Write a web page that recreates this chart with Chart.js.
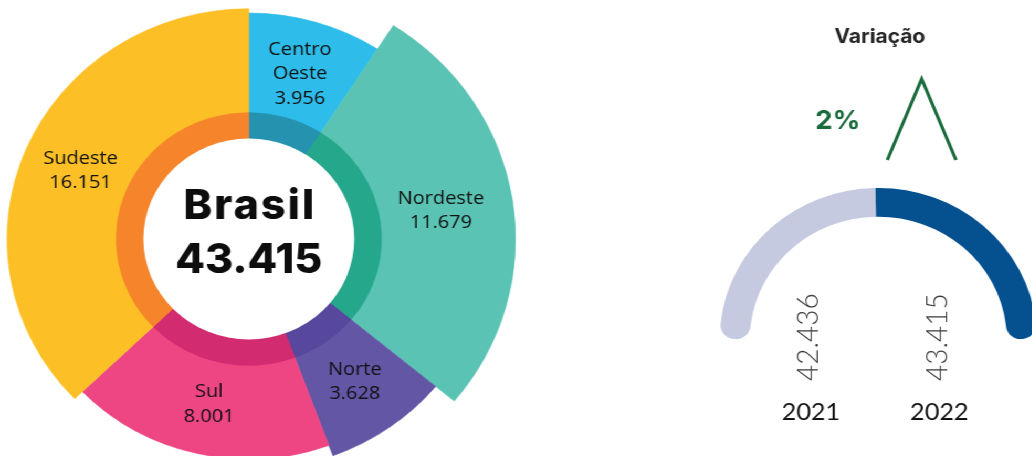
<!DOCTYPE html>
<html><head><meta charset="utf-8">
<script src="https://cdn.jsdelivr.net/npm/chart.js@4/dist/chart.umd.min.js"></script>
<style>
html,body{margin:0;padding:0;background:#fff;width:1032px;height:456px;overflow:hidden}
#stage{position:absolute;left:0;top:0;width:983px;height:456px;transform:scaleX(1.05);transform-origin:0 0}
#polarBox{position:absolute;left:-33px;top:-31px;width:540px;height:540px}
#gaugeBox{position:absolute;left:685px;top:0;width:303px;height:456px}
</style></head><body>
<div id="stage">
  <div id="polarBox"><canvas id="polar"></canvas></div>
  <div id="gaugeBox"><canvas id="gauge"></canvas></div>
</div>
<script>
// ---- data ----
const regioes = ['Centro Oeste', 'Nordeste', 'Norte', 'Sul', 'Sudeste'];
const rotulos = [['Centro', 'Oeste'], ['Nordeste'], ['Norte'], ['Sul'], ['Sudeste']];
const valores = [3956, 11679, 3628, 8001, 16151];
const alcance = [83.7, 94.1, 85.6, 81.5, 85.3];   // radial extent of each slice (0-100 scale)
const anelInterno = 46.8;                          // inner ring extent (0-100 scale)
const furoCentral = 37.2;                          // white hole extent (0-100 scale)
const tituloCentro = 'Brasil';

const anos = ['2021', '2022'];
const totaisAno = [42436, 43415];
const tituloVar = 'Variação';

// ---- styles ----
const coresRegiao = ['#2EBDEA', '#5AC3B3', '#6356A5', '#EE4583', '#FCC026'];
const coresAnel = ['#2592B0', '#24A78A', '#57479D', '#D22B70', '#F5842B'];
const coresAno = ['#C5CAE0', '#05508E'];
const verde = '#1A6B3C';

const total = valores.reduce((a, b) => a + b, 0);
const fmt = n => String(n).replace(/\B(?=(\d{3})+(?!\d))/g, '.');
const angulo = ctx => valores[ctx.dataIndex] / total * 360;

const centroPlugin = {
  id: 'centro',
  afterDatasetsDraw(chart) {
    const ctx = chart.ctx, s = chart.scales.r;
    const cx = s.xCenter, cy = s.yCenter;
    ctx.save();
    ctx.fillStyle = '#fff';
    ctx.beginPath();
    ctx.arc(cx, cy, s.getDistanceFromCenterForValue(furoCentral), 0, Math.PI * 2);
    ctx.fill();
    ctx.fillStyle = '#0d0d0d';
    ctx.textAlign = 'center';
    ctx.textBaseline = 'alphabetic';
    ctx.font = '800 41px Inter';
    ctx.letterSpacing = '2px';
    ctx.fillText(tituloCentro, cx + 1, cy - 20);
    ctx.letterSpacing = '0px';
    ctx.fillText(fmt(total), cx, cy + 34);
    // region labels
    const rAnel = s.getDistanceFromCenterForValue(anelInterno);
    const meta = chart.getDatasetMeta(1);
    ctx.font = '400 19px "Open Sans"';
    ctx.fillStyle = '#111';
    ctx.textBaseline = 'middle';
    meta.data.forEach((arc, i) => {
      const mid = (arc.startAngle + arc.endAngle) / 2;
      const r = rAnel + 0.46 * (arc.outerRadius - rAnel);
      const x = cx + Math.cos(mid) * r, y = cy + Math.sin(mid) * r;
      const linhas = rotulos[i].concat([fmt(valores[i])]);
      const lh = 24.5;
      linhas.forEach((t, j) => ctx.fillText(t, x, y + (j - (linhas.length - 1) / 2) * lh));
    });
    ctx.restore();
  }
};

new Chart(document.getElementById('polar'), {
  type: 'polarArea',
  data: {
    labels: regioes,
    datasets: [
      { data: regioes.map(() => anelInterno), backgroundColor: coresAnel, borderColor: coresAnel, borderWidth: 0.6, angle: angulo },
      { data: alcance, backgroundColor: coresRegiao, borderColor: coresRegiao, borderWidth: 0.6, angle: angulo }
    ]
  },
  options: {
    responsive: true, maintainAspectRatio: false, animation: false,
    layout: { padding: 0 },
    plugins: { legend: { display: false }, tooltip: { enabled: false } },
    scales: {
      r: {
        min: 0, max: 100, startAngle: 0,
        ticks: { display: false }, grid: { display: false },
        angleLines: { display: false }, pointLabels: { display: false }
      }
    }
  },
  plugins: [centroPlugin]
});

const gaugePlugin = {
  id: 'gaugeTexto',
  afterDatasetsDraw(chart) {
    const ctx = chart.ctx;
    const arcs = chart.getDatasetMeta(0).data;
    const cx = arcs[0].x, cy = arcs[0].y, rin = arcs[0].innerRadius;
    ctx.save();
    ctx.textAlign = 'center';
    ctx.textBaseline = 'alphabetic';
    ctx.fillStyle = '#262626';
    ctx.font = '700 20px Inter';
    ctx.fillText(tituloVar, cx + 1.5, cy - 296.5);
    const varPct = Math.round((totaisAno[1] - totaisAno[0]) / totaisAno[0] * 100);
    ctx.fillStyle = verde;
    ctx.font = '700 26px Inter';
    ctx.fillText(varPct + '%', cx - 38.5, cy - 209.7);
    // up chevron
    ctx.strokeStyle = verde;
    ctx.lineWidth = 3.2;
    ctx.lineJoin = 'miter';
    ctx.beginPath();
    ctx.moveTo(cx + 8.6, cy - 179);
    ctx.lineTo(cx + 41.3, cy - 260);
    ctx.lineTo(cx + 74, cy - 179);
    ctx.stroke();
    // values (rotated) and years
    arcs.forEach((a, i) => {
      const side = i === 0 ? -1 : 1;
      ctx.save();
      ctx.translate(cx - 5 + side * rin * 0.5, cy + 42);
      ctx.rotate(-Math.PI / 2);
      ctx.textAlign = 'left';
      ctx.textBaseline = 'middle';
      ctx.fillStyle = '#3a3a3a';
      ctx.font = '300 28px Lato';
      ctx.fillText(fmt(totaisAno[i]), 0, 0);
      ctx.restore();
      ctx.fillStyle = '#111';
      ctx.font = '400 24px Lato';
      ctx.fillText(anos[i], cx - 3 + side * rin * 0.5, cy + 81);
    });
    ctx.restore();
  }
};

new Chart(document.getElementById('gauge'), {
  type: 'doughnut',
  data: {
    labels: anos,
    datasets: [{
      data: totaisAno,
      backgroundColor: coresAno,
      borderWidth: 0,
      borderRadius: ctx => ctx.dataIndex === 0
        ? { outerStart: 14, innerStart: 14, outerEnd: 0, innerEnd: 0 }
        : { outerStart: 0, innerStart: 0, outerEnd: 14, innerEnd: 14 }
    }]
  },
  options: {
    responsive: true, maintainAspectRatio: false, animation: false,
    rotation: -90, circumference: 180, cutout: '81%',
    layout: { padding: { top: 188, bottom: 117, left: 0, right: 0 } },
    plugins: { legend: { display: false }, tooltip: { enabled: false } }
  },
  plugins: [gaugePlugin]
});
</script>
</body></html>
